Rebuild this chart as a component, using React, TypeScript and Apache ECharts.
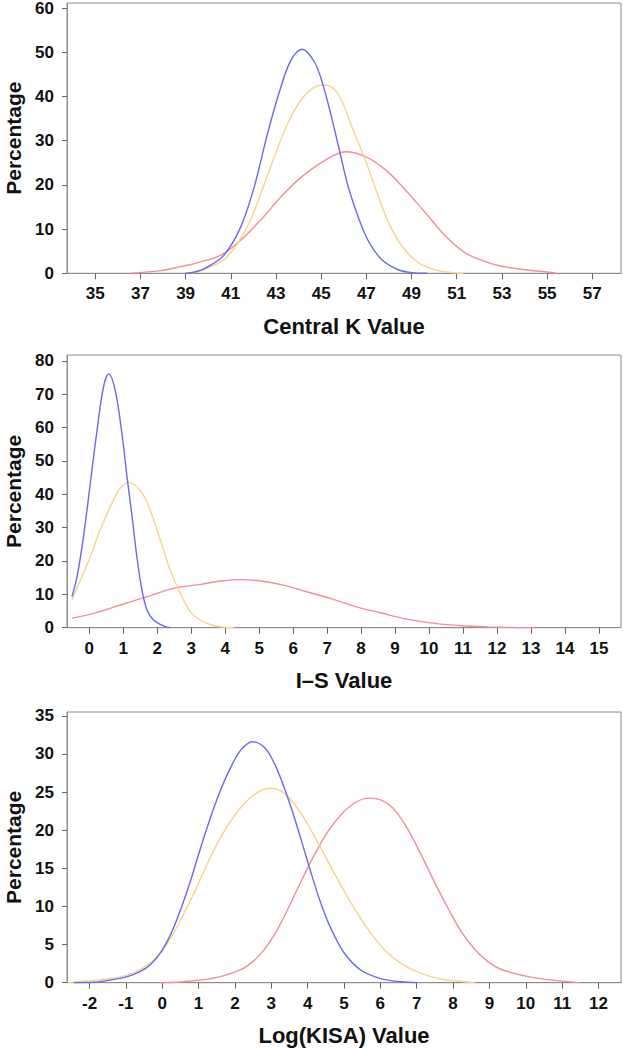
import React, { useEffect, useRef } from "react";
import * as echarts from "echarts";

// ---------- Panel 1: Central K Value ----------
const kTicks = [35, 37, 39, 41, 43, 45, 47, 49, 51, 53, 55, 57];
const kYTicks = [0, 10, 20, 30, 40, 50, 60];
const kBlue: number[][] = [
  [39.0, 0], [39.5, 0.4], [40.0, 1.5], [40.7, 4.1], [41.44, 10.5], [42.04, 19.6],
  [42.63, 31.7], [43.22, 42.2], [43.67, 48.3], [44.16, 50.7], [44.7, 47.8],
  [45.07, 42.8], [45.45, 35.5], [45.84, 27.1], [46.2, 19.5], [46.67, 12.3],
  [47.1, 7.2], [47.7, 3.0], [48.44, 0.75], [49.04, 0.15], [49.7, 0],
];
const kYellow: number[][] = [
  [39.2, 0], [39.96, 1.1], [40.85, 3.8], [41.73, 10.5], [42.33, 18.1], [42.93, 26.4],
  [43.52, 33.9], [44.11, 39.2], [44.7, 42.1], [45.14, 42.6], [45.59, 41.6],
  [45.95, 38.6], [46.35, 33.2], [46.96, 25.6], [47.48, 18.1], [48.0, 11.3],
  [48.6, 6.0], [49.33, 2.3], [50.07, 0.75], [50.8, 0.15], [51.3, 0],
];
const kRed: number[][] = [
  [36.6, 0], [37.89, 0.6], [38.78, 1.5], [39.67, 2.6], [40.56, 4.1], [41.44, 7.5],
  [42.33, 12.1], [43.22, 17.3], [44.11, 21.7], [45.0, 25.0], [46.07, 27.5],
  [46.96, 26.4], [47.85, 23.4], [48.74, 18.8], [49.63, 13.6], [50.52, 8.3],
  [51.41, 4.5], [52.3, 2.6], [52.9, 1.7], [54.0, 0.8], [55.0, 0.3], [55.4, 0],
];

// ---------- Panel 2: I–S Value ----------
const isTicks = [0, 1, 2, 3, 4, 5, 6, 7, 8, 9, 10, 11, 12, 13, 14, 15];
const isYTicks = [0, 10, 20, 30, 40, 50, 60, 70, 80];
const isBlue: number[][] = [
  [-0.51, 9.3], [-0.36, 15.3], [-0.17, 27.3], [0.03, 43.3], [0.23, 59.3], [0.42, 72.3],
  [0.57, 76.1], [0.76, 71.3], [0.96, 58.3], [1.11, 45.3], [1.26, 33.3], [1.4, 21.3],
  [1.55, 11.3], [1.7, 5.3], [1.89, 2.3], [2.19, 0.5], [2.4, 0],
];
const isYellow: number[][] = [
  [-0.51, 8.3], [-0.26, 14.3], [0.03, 21.3], [0.32, 29.3], [0.62, 36.3], [0.91, 41.8],
  [1.16, 43.5], [1.5, 41.2], [1.79, 35.3], [2.09, 26.3], [2.38, 17.3], [2.68, 10.3],
  [2.97, 4.8], [3.26, 2.3], [3.6, 0.8], [3.95, 0.15], [4.25, 0],
];
const isRed: number[][] = [
  [-0.51, 2.8], [0.13, 4.3], [0.91, 6.8], [1.7, 9.3], [2.48, 11.8], [3.28, 13.0],
  [3.87, 14.0], [4.46, 14.4], [5.05, 14.0], [5.74, 12.7], [6.43, 10.7], [7.12, 8.7],
  [7.81, 6.4], [8.6, 4.4], [9.38, 2.5], [10.17, 1.3], [10.95, 0.6], [11.74, 0.25],
  [12.5, 0.05], [13.1, 0],
];

// ---------- Panel 3: Log(KISA) Value ----------
const lkTicks = [-2, -1, 0, 1, 2, 3, 4, 5, 6, 7, 8, 9, 10, 11, 12];
const lkYTicks = [0, 5, 10, 15, 20, 25, 30, 35];
const lkBlue: number[][] = [
  [-2.43, 0], [-1.88, 0.05], [-1.42, 0.35], [-0.96, 0.8], [-0.6, 1.5], [-0.32, 2.4],
  [-0.05, 3.9], [0.23, 6.3], [0.5, 9.5], [0.78, 13.4], [1.05, 17.6], [1.33, 21.7],
  [1.6, 25.2], [1.88, 28.2], [2.16, 30.5], [2.48, 31.6], [2.8, 30.9], [3.07, 28.9],
  [3.3, 26.3], [3.55, 22.9], [3.83, 18.6], [4.1, 14.3], [4.38, 10.2], [4.66, 6.9],
  [5.02, 3.8], [5.48, 1.6], [6.04, 0.5], [6.59, 0.12], [7.0, 0],
];
const lkYellow: number[][] = [
  [-2.6, 0], [-1.97, 0.25], [-1.42, 0.55], [-0.96, 1.0], [-0.6, 1.75], [-0.23, 3.0],
  [0.14, 5.1], [0.5, 8.2], [0.87, 11.7], [1.24, 15.6], [1.61, 19.1], [1.97, 21.8],
  [2.34, 23.9], [2.71, 25.2], [2.98, 25.5], [3.37, 24.8], [3.83, 22.1], [4.29, 18.3],
  [4.75, 14.2], [5.2, 10.4], [5.66, 7.0], [6.12, 4.3], [6.58, 2.5], [7.14, 1.2],
  [7.69, 0.45], [8.24, 0.15], [8.6, 0],
];
const lkRed: number[][] = [
  [-0.05, 0], [0.5, 0.1], [1.05, 0.35], [1.6, 0.8], [2.16, 1.7], [2.5, 2.8],
  [2.8, 4.3], [3.1, 6.4], [3.45, 9.6], [3.83, 13.4], [4.2, 16.9],
  [4.57, 19.9], [4.93, 22.1], [5.3, 23.6], [5.67, 24.2], [6.04, 23.9], [6.4, 22.6],
  [6.78, 19.9], [7.14, 16.6], [7.51, 13.0], [7.88, 9.6], [8.24, 6.6], [8.61, 4.3],
  [8.98, 2.7], [9.35, 1.7], [10.08, 0.8], [10.8, 0.3], [11.5, 0],
];

const BLUE = "#6868f0";
const YELLOW = "#f8d38c";
const RED = "#f28e98";
const FONT = "'Liberation Sans', Arial, Helvetica, sans-serif";
const AXIS_GRAY = "#8c8c8c";

export default function App() {
  const ref = useRef<HTMLDivElement>(null);

  useEffect(() => {
    if (!ref.current) return;
    const chart = echarts.init(ref.current, undefined, { renderer: "svg" });

    const panels = [
      { top: 3, height: 270.3, xmin: 33.75, xmax: 58.27, ymax: 61.15, xt: kTicks, yt: kYTicks, name: "Central K Value", lines: [kRed, kYellow, kBlue] },
      { top: 355, height: 272.7, xmin: -0.656, xmax: 15.65, ymax: 81.75, xt: isTicks, yt: isYTicks, name: "I\u2013S Value", lines: [isRed, isYellow, isBlue] },
      { top: 712, height: 270.7, xmin: -2.62, xmax: 12.62, ymax: 35.5, xt: lkTicks, yt: lkYTicks, name: "Log(KISA) Value", lines: [lkRed, lkYellow, lkBlue] },
    ];
    const colors = [RED, YELLOW, BLUE];

    const grid = panels.map((p) => ({
      left: 67,
      width: 554,
      top: p.top,
      height: p.height,
      containLabel: false,
      outerBoundsMode: "none",
      show: true,
      borderColor: AXIS_GRAY,
      borderWidth: 1,
      backgroundColor: "transparent",
    }));

    const xAxis = panels.map((p, i) => ({
      type: "value",
      gridIndex: i,
      min: p.xmin,
      max: p.xmax,
      name: p.name,
      nameLocation: "middle",
      nameGap: 42,
      nameTextStyle: { fontFamily: FONT, fontSize: 22, fontWeight: "bold", color: "#111" },
      splitLine: { show: false },
      axisLine: { show: true, onZero: false, lineStyle: { color: AXIS_GRAY, width: 1 } },
      axisTick: { show: true, length: 6, inside: false, customValues: p.xt, lineStyle: { color: "#666" } },
      axisLabel: { show: true, customValues: p.xt, margin: 12, fontFamily: FONT, fontSize: 17, fontWeight: "bold", color: "#111" },
    }));

    const yAxis = panels.map((p, i) => ({
      type: "value",
      gridIndex: i,
      min: 0,
      max: p.ymax,
      name: "Percentage",
      nameLocation: "middle",
      nameGap: 43,
      nameTextStyle: { fontFamily: FONT, fontSize: 21, fontWeight: "bold", color: "#111" },
      splitLine: { show: false },
      axisLine: { show: true, onZero: false, lineStyle: { color: AXIS_GRAY, width: 1 } },
      axisTick: { show: true, length: 5, inside: false, customValues: p.yt, lineStyle: { color: "#666" } },
      axisLabel: { show: true, customValues: p.yt, margin: 13, fontFamily: FONT, fontSize: 17, fontWeight: "bold", color: "#111" },
    }));

    const series: any[] = [];
    panels.forEach((p, i) => {
      p.lines.forEach((d, j) => {
        series.push({
          type: "line",
          xAxisIndex: i,
          yAxisIndex: i,
          data: d,
          smooth: 0.35,
          showSymbol: false,
          symbol: "none",
          lineStyle: { color: colors[j], width: 1.4 },
          z: 2 + j,
        });
      });
    });

    chart.setOption({
      animation: false,
      backgroundColor: "#ffffff",
      grid,
      xAxis,
      yAxis,
      series,
    });

    return () => chart.dispose();
  }, []);

  return (
    <div
      ref={ref}
      style={{ position: "absolute", left: 0, top: 0, width: 623, height: 1050 }}
    />
  );
}
